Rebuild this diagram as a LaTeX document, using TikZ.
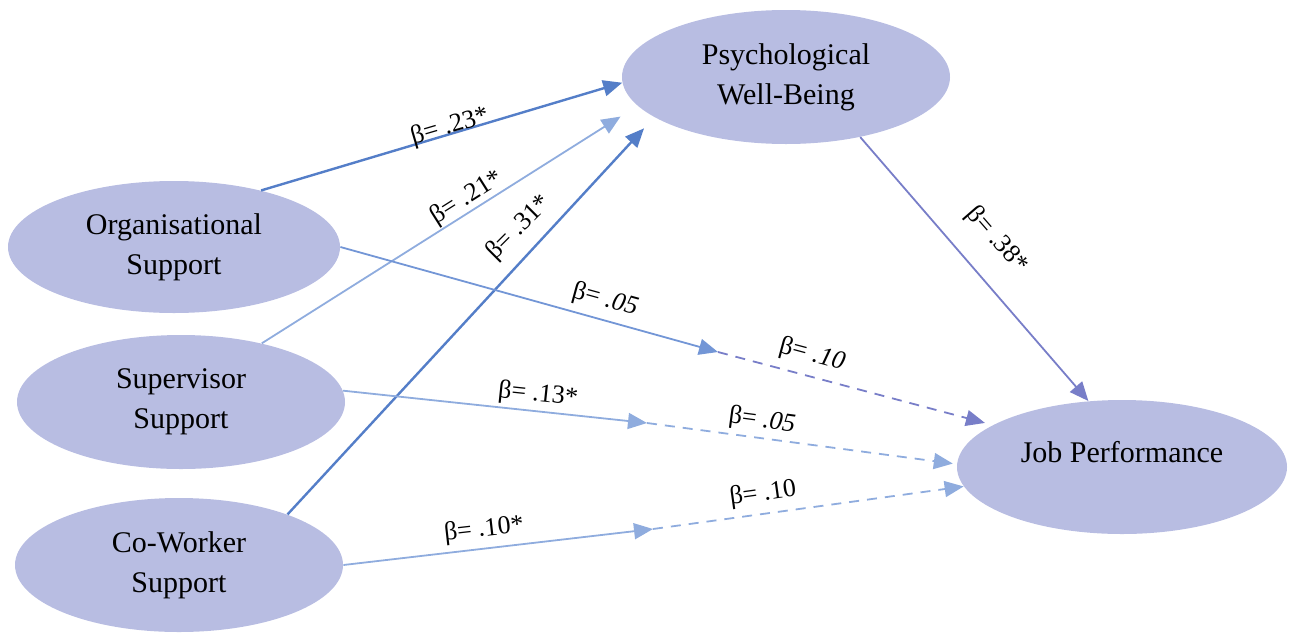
\documentclass[tikz,border=0pt]{standalone}
\usepackage{fontspec}
\setmainfont{Liberation Serif}
\usetikzlibrary{shapes.geometric,arrows.meta}
\definecolor{ellfill}{RGB}{184,189,226}
\definecolor{bluedark}{RGB}{84,126,200}
\definecolor{bluelight}{RGB}{143,172,222}
\definecolor{bluemid}{RGB}{115,150,214}
\definecolor{purp}{RGB}{120,126,200}
\begin{document}
\begin{tikzpicture}[x=0.5pt,y=-0.5pt,
  ell/.style={ellipse, fill=ellfill, draw=none, inner sep=0pt, align=center,
    font=\fontsize{15}{20}\selectfont},
  lab/.style={font=\fontsize{13}{15}\selectfont, inner sep=0pt},
  arr/.style={-{Triangle[length=9.5pt,width=8pt]}},
  dsh/.style={dash pattern=on 5pt off 4pt}]
\useasboundingbox (0,0) rectangle (1289,632);

\node[ell, minimum width=166pt, minimum height=66pt] (org) at (174,247) {Organisational\\Support};
\node[ell, minimum width=164pt, minimum height=67pt] (sup) at (181,402) {Supervisor\\Support};
\node[ell, minimum width=164pt, minimum height=67pt] (cow) at (179,565) {Co-Worker\\Support};
\node[ell, minimum width=164pt, minimum height=67pt] (pwb) at (786,77) {Psychological\\Well-Being};
\node[ell, minimum width=165pt, minimum height=67pt,
  label={[yshift=7.5pt, font=\fontsize{15}{20}\selectfont]center:Job Performance}] (job) at (1122,467) {};

\coordinate (m1) at (718,352);
\coordinate (m2) at (647,423);
\coordinate (m3) at (653,529);

\draw[arr, bluedark, line width=1.2pt] (org.33) -- (pwb.182);
\draw[arr, bluelight, line width=0.9pt, shorten >=10pt] (sup.36) -- (pwb.191);
\draw[arr, bluedark, line width=1.2pt, shorten >=7.5pt] (cow.25) -- (pwb.197);

\draw[arr, bluemid, line width=0.9pt] (org.0) -- (m1);
\draw[arr, purp, line width=0.9pt, dsh, shorten >=4pt] (m1) -- (job.162);
\draw[arr, bluelight, line width=0.9pt] (sup.4) -- (m2);
\draw[arr, bluelight, line width=0.9pt, dsh, shorten >=2pt] (m2) -- (job.179);
\draw[arr, bluelight, line width=0.9pt] (cow.0) -- (m3);
\draw[arr, bluelight, line width=0.9pt, dsh] (m3) -- (job.187);

\draw[arr, purp, line width=0.9pt] (pwb.321) -- (job.117);

\node[lab, rotate=16.4] (l1) at (450,127) {β= .23*};
\node[lab, rotate=32.3] (l2) at (467,198) {β= .21*};
\node[lab, rotate=45] (l3) at (519,228) {β= .31*};
\node[lab, rotate=-15.4] (l4) at (605,300) {β= \textit{.05}};
\node[lab, rotate=-15] (l5) at (812,355) {β= \textit{.10}};
\node[lab, rotate=-6] (l6) at (538,395) {β= .13*};
\node[lab, rotate=-7.6] (l7) at (762,421) {β= \textit{.05}};
\node[lab, rotate=6.5] (l8) at (484,530) {β= .10*};
\node[lab, rotate=8] (l9) at (763,494) {β= .10};
\node[lab, rotate=-49] (l10) at (997,240) {β= .38*};
\end{tikzpicture}
\end{document}
